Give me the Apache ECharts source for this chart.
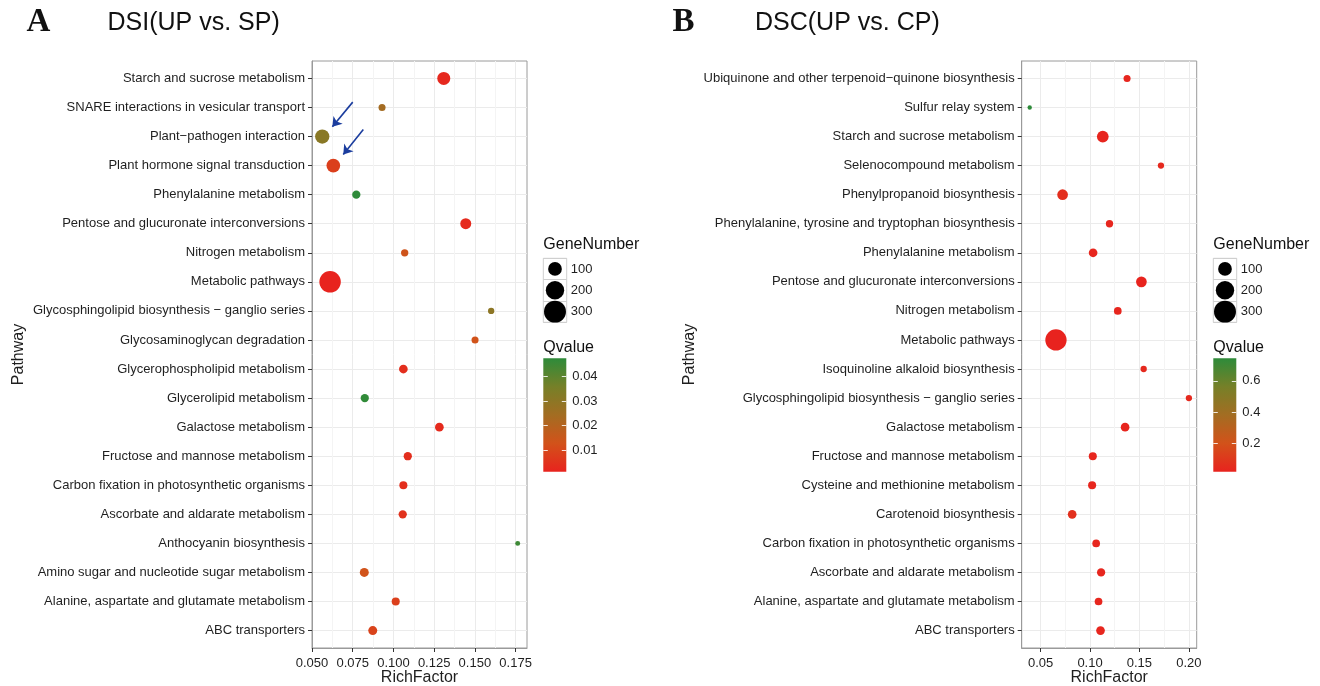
<!DOCTYPE html>
<html><head><meta charset="utf-8">
<script src="https://cdn.jsdelivr.net/npm/echarts@6/dist/echarts.min.js"></script>
<style>html,body{margin:0;padding:0;background:#fff}#c{width:1320px;height:686px}</style>
</head><body><div id="c"></div>
<script>
// ---------- DATA ----------
const pathwaysA = [
  'Starch and sucrose metabolism','SNARE interactions in vesicular transport','Plant\u2212pathogen interaction',
  'Plant hormone signal transduction','Phenylalanine metabolism','Pentose and glucuronate interconversions',
  'Nitrogen metabolism','Metabolic pathways','Glycosphingolipid biosynthesis \u2212 ganglio series',
  'Glycosaminoglycan degradation','Glycerophospholipid metabolism','Glycerolipid metabolism',
  'Galactose metabolism','Fructose and mannose metabolism','Carbon fixation in photosynthetic organisms',
  'Ascorbate and aldarate metabolism','Anthocyanin biosynthesis','Amino sugar and nucleotide sugar metabolism',
  'Alanine, aspartate and glutamate metabolism','ABC transporters'];
const richA = [0.1309,0.0930,0.0563,0.0631,0.0772,0.1444,0.1069,0.0611,0.1600,0.1501,
               0.1061,0.0824,0.1282,0.1088,0.1061,0.1057,0.1763,0.0821,0.1014,0.0873];
const geneA = [88,17,111,100,27,58,19,285,12,17,31,27,31,27,25,27,5,34,25,34];
const qA    = [0.0025,0.024,0.031,0.008,0.0475,0.003,0.0137,0.0012,0.030,0.013,
               0.004,0.047,0.003,0.004,0.004,0.005,0.045,0.013,0.008,0.009];

const pathwaysB = [
  'Ubiquinone and other terpenoid\u2212quinone biosynthesis','Sulfur relay system','Starch and sucrose metabolism',
  'Selenocompound metabolism','Phenylpropanoid biosynthesis','Phenylalanine, tyrosine and tryptophan biosynthesis',
  'Phenylalanine metabolism','Pentose and glucuronate interconversions','Nitrogen metabolism','Metabolic pathways',
  'Isoquinoline alkaloid biosynthesis','Glycosphingolipid biosynthesis \u2212 ganglio series','Galactose metabolism',
  'Fructose and mannose metabolism','Cysteine and methionine metabolism','Carotenoid biosynthesis',
  'Carbon fixation in photosynthetic organisms','Ascorbate and aldarate metabolism',
  'Alanine, aspartate and glutamate metabolism','ABC transporters'];
const richB = [0.1375,0.0389,0.1129,0.1718,0.0722,0.1197,0.1031,0.1520,0.1281,0.0655,
               0.1543,0.2001,0.1355,0.1028,0.1021,0.0819,0.1062,0.1112,0.1086,0.1106];
const geneB = [17,3,68,12,54,19,31,54,22,280,12,12,31,25,25,31,22,27,22,31];
const qB    = [0.03,0.745,0.025,0.04,0.06,0.03,0.03,0.02,0.03,0.018,
               0.04,0.04,0.025,0.03,0.03,0.07,0.03,0.03,0.03,0.03];

const xRangeA = [0.05, 0.182], xStepA = 0.025, xTicksA = [0.05,0.075,0.1,0.125,0.15,0.175];
const xRangeB = [0.0308, 0.208], xStepB = 0.05, xTicksB = [0.05,0.1,0.15,0.2];
const qRangeA = [0.0012, 0.0475], qStepA = 0.01, qTicksA = [0.01,0.02,0.03,0.04];
const qRangeB = [0.018, 0.745], qStepB = 0.2, qTicksB = [0.2,0.4,0.6];
const sizeBreaks = ['100','200','300'];
const titleA = 'DSI(UP vs. SP)', titleB = 'DSC(UP vs. CP)';
const arrowsA = [[[0.0750,0.815],[0.0625,1.665]], [[0.0815,1.754],[0.0692,2.614]]];

// ---------- STYLE ----------
const qColors = ['#E8231E','#D2521A','#A36D22','#768028','#2E8B3A'];
const FONT = 'Liberation Sans, Arial, Helvetica, sans-serif';
const TXT = '#1f1f1f';
const sizeOf = g => 2.4 + 1.13 * Math.sqrt(g);
const isStep = (v, s) => Math.abs(v / s - Math.round(v / s)) < 1e-6;
const gradient = {type:'linear', x:0, y:0, x2:0, y2:1,
  colorStops: qColors.slice().reverse().map((c,i,a)=>({offset:i/(a.length-1), color:c}))};

const P = [
  {left:312, width:215, legX:543.3, names:pathwaysA, rich:richA, gene:geneA, q:qA,
   xr:xRangeA, xs:xStepA, xt:xTicksA, dec:3, qr:qRangeA, qs:qStepA, qt:qTicksA, qdec:2, nameGap:285},
  {left:1021.7, width:175, legX:1213.3, names:pathwaysB, rich:richB, gene:geneB, q:qB,
   xr:xRangeB, xs:xStepB, xt:xTicksB, dec:2, qr:qRangeB, qs:qStepB, qt:qTicksB, qdec:1, nameGap:324}
];
const TOP = 61, H = 587, BAR_W = 23;

const grid = [], xAxis = [], yAxis = [], series = [], visualMap = [];
P.forEach((p, k) => {
  const yIdx = p.names.map((_, i) => i);
  grid.push({left:p.left, top:TOP, width:p.width, height:H, show:true, borderColor:'#9a9a9a',
             borderWidth:1, backgroundColor:'#fff', outerBoundsMode:'none', containLabel:false});
  xAxis.push({type:'value', gridIndex:k, min:p.xr[0], max:p.xr[1], minInterval:p.xs, maxInterval:p.xs,
    axisLine:{show:true, onZero:false, lineStyle:{color:'#9a9a9a'}},
    axisTick:{show:true, length:4, customValues:p.xt, lineStyle:{color:'#333'}},
    axisLabel:{margin:9, fontSize:13, fontFamily:FONT, color:TXT, customValues:p.xt,
      formatter:v => isStep(v, p.xs) ? v.toFixed(p.dec) : ''},
    splitLine:{show:true, lineStyle:{color:'#EBEBEB', width:1}},
    minorTick:{show:false, splitNumber:2}, minorSplitLine:{show:true, lineStyle:{color:'#F4F4F4', width:1}},
    name:'RichFactor', nameLocation:'middle', nameGap:22, nameMoveOverlap:false,
    nameTextStyle:{fontSize:16, fontFamily:FONT, color:TXT}});
  yAxis.push({type:'value', gridIndex:k, inverse:true, min:-0.6, max:p.names.length - 0.4,
    minInterval:1, maxInterval:1,
    axisLine:{show:true, onZero:false, lineStyle:{color:'#9a9a9a'}},
    axisTick:{show:true, length:4, customValues:yIdx, lineStyle:{color:'#333'}},
    axisLabel:{margin:7, fontSize:13, fontFamily:FONT, color:TXT, customValues:yIdx,
      formatter:v => isStep(v,1) ? (p.names[Math.round(v)] || '') : ''},
    splitLine:{show:true, lineStyle:{color:'#EBEBEB', width:1}},
    name:'Pathway', nameLocation:'middle', nameGap:p.nameGap, nameMoveOverlap:false,
    nameTextStyle:{fontSize:16, fontFamily:FONT, color:TXT}});
  series.push({type:'scatter', name:k?titleB:titleA, xAxisIndex:k, yAxisIndex:k,
    data:p.rich.map((r,i)=>[r, i, p.gene[i], p.q[i]]),
    symbolSize:v => sizeOf(v[2]), itemStyle:{opacity:1}, z:5});
  visualMap.push({type:'continuous', show:false, seriesIndex:k, dimension:3,
    min:p.qr[0], max:p.qr[1], inRange:{color:qColors}});
});
// size legends
P.forEach((p, k) => {
  const gi = grid.length;
  grid.push({left:p.legX, top:258.3, width:23.4, height:64, show:true, borderColor:'#cfcfcf', borderWidth:1,
             backgroundColor:'#fff', outerBoundsMode:'none'});
  xAxis.push({type:'value', gridIndex:gi, min:-1, max:1, show:false});
  yAxis.push({type:'category', gridIndex:gi, data:sizeBreaks, inverse:true, position:'right',
    axisLine:{show:false}, axisTick:{show:false},
    axisLabel:{margin:4, fontSize:13, fontFamily:FONT, color:TXT},
    splitLine:{show:true, lineStyle:{color:'#cfcfcf'}}});
  series.push({type:'scatter', xAxisIndex:gi, yAxisIndex:yAxis.length-1,
    data:sizeBreaks.map((s,i)=>[0, i, +s]), symbolSize:v => sizeOf(v[2]),
    itemStyle:{color:'#000', opacity:1}, silent:true});
});
// colour bars
P.forEach((p, k) => {
  const gi = grid.length;
  grid.push({left:p.legX, top:358.3, width:BAR_W, height:113.4, show:true, borderWidth:0,
             backgroundColor:gradient, outerBoundsMode:'none'});
  xAxis.push({type:'value', gridIndex:gi, min:0, max:1, show:false});
  const tickFmt = v => isStep(v, p.qs) ? v.toFixed(p.qdec) : '';
  const tickStyle = {color:'rgba(255,255,255,0.85)', width:1};
  const common = {type:'value', gridIndex:gi, min:p.qr[0], max:p.qr[1],
    minInterval:p.qs, maxInterval:p.qs, splitLine:{show:false}, axisLine:{show:false}};
  yAxis.push(Object.assign({}, common, {position:'right', axisTick:{show:false},
    axisLabel:{margin:6, fontSize:13, fontFamily:FONT, color:TXT, customValues:p.qt, formatter:tickFmt}}));
  yAxis.push(Object.assign({}, common, {position:'left',
    axisTick:{show:true, inside:true, length:4.5, customValues:p.qt, lineStyle:tickStyle},
    axisLabel:{show:false}}));
  yAxis.push(Object.assign({}, common, {position:'left', offset:-BAR_W,
    axisTick:{show:true, inside:false, length:4.5, customValues:p.qt, lineStyle:tickStyle},
    axisLabel:{show:false}}));
});
// annotation arrows in panel A
series.push({type:'lines', coordinateSystem:'cartesian2d', xAxisIndex:0, yAxisIndex:0,
  data:arrowsA.map(c => ({coords:c})), symbol:['none','arrow'], symbolSize:[0,9],
  lineStyle:{color:'#1B3D9E', width:1.6, opacity:1}, silent:true, z:6});

const txt = (x,y,text,font,extra) => Object.assign({type:'text', x, y, z:100,
  style:{text, font, fill:'#111', verticalAlign:'middle', align:'left'}}, extra||{});
const graphic = [
  txt(26.5, 22.5, 'A', 'bold 33px "Liberation Serif", "Times New Roman", serif'),
  txt(107.5, 23, titleA, '25px ' + FONT),
  txt(672.5, 22.5, 'B', 'bold 33px "Liberation Serif", "Times New Roman", serif'),
  txt(755, 23, titleB, '25px ' + FONT),
];
P.forEach(p => {
  graphic.push(txt(p.legX, 244.5, 'GeneNumber', '16px ' + FONT));
  graphic.push(txt(p.legX, 347.5, 'Qvalue', '16px ' + FONT));
});

const chart = echarts.init(document.getElementById('c'), null, {renderer:'canvas'});
chart.setOption({animation:false, backgroundColor:'#fff', grid, xAxis, yAxis, series, visualMap, graphic});
</script></body></html>
